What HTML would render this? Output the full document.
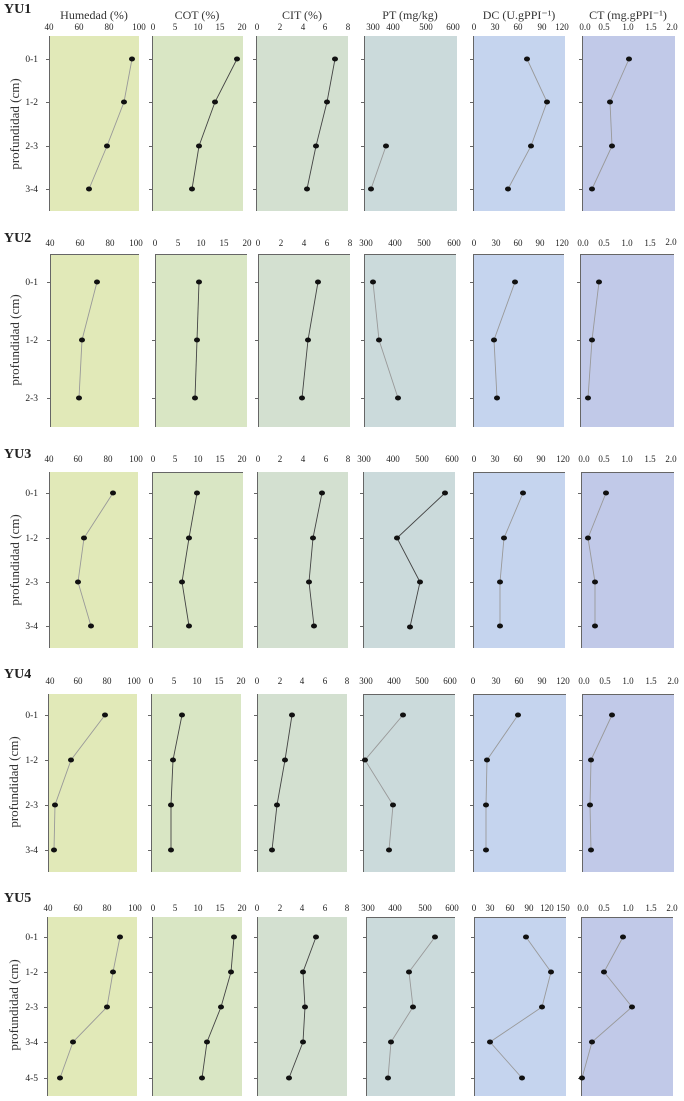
<!DOCTYPE html>
<html><head><meta charset="utf-8"><style>
body{margin:0;background:#fff}
svg{display:block;font-family:"Liberation Serif",serif}
.t{font-size:9px;fill:#222;text-anchor:middle}
.c{font-size:9.5px;fill:#222;text-anchor:end}
.h{font-size:12px;fill:#333;text-anchor:middle}
.yu{font-size:14px;font-weight:bold;fill:#222}
.yt{font-size:13px;fill:#333;text-anchor:middle}
.ax{stroke:#666;stroke-width:1;fill:none}
.l1{stroke:#999;stroke-width:0.9;fill:none}
.l2{stroke:#444;stroke-width:0.9;fill:none}
</style></head><body>
<svg width="684" height="1101" viewBox="0 0 684 1101">
<!-- ROW 1 -->
<text class="yu" x="4" y="13">YU1</text>
<text class="h" x="94" y="19">Humedad (%)</text>
<text class="h" x="197" y="19">COT (%)</text>
<text class="h" x="302" y="19">CIT (%)</text>
<text class="h" x="410" y="19">PT (mg/kg)</text>
<text class="h" x="519" y="19">DC (U.gPPI⁻¹)</text>
<text class="h" x="628" y="19">CT (mg.gPPI⁻¹)</text>
<rect x="49" y="36" width="90" height="175" fill="#e1e9b8"/>
<rect x="152" y="36" width="91" height="175" fill="#d9e6c4"/>
<rect x="256" y="36" width="92" height="175" fill="#d3e0d0"/>
<rect x="364" y="36" width="93" height="175" fill="#cbdadb"/>
<rect x="473" y="36" width="92" height="175" fill="#c5d4ee"/>
<rect x="582" y="36" width="93" height="175" fill="#c1c9e8"/>
<path class="ax" d="M49.5 36V211M152.5 36V211M256.5 36V211M364.5 36V211M473.5 36V211M582.5 36V211"/>
<path class="ax" d="M46 59.5h3M46 102.5h3M46 146.5h3M46 189.5h3M149 59.5h3M149 102.5h3M149 146.5h3M149 189.5h3M253 59.5h3M253 102.5h3M253 146.5h3M253 189.5h3M361 59.5h3M361 102.5h3M361 146.5h3M361 189.5h3M470 59.5h3M470 102.5h3M470 146.5h3M470 189.5h3M579 59.5h3M579 102.5h3M579 146.5h3M579 189.5h3"/>
<g class="t">
<text x="49" y="30">40</text><text x="79" y="30">60</text><text x="109" y="30">80</text><text x="139" y="30">100</text>
<text x="153" y="30">0</text><text x="175" y="30">5</text><text x="198" y="30">10</text><text x="220" y="30">15</text><text x="242" y="30">20</text>
<text x="257" y="30">0</text><text x="280" y="30">2</text><text x="303" y="30">4</text><text x="325" y="30">6</text><text x="348" y="30">8</text>
<text x="373" y="30">300</text><text x="393" y="30">400</text><text x="426" y="30">500</text><text x="453" y="30">600</text>
<text x="474" y="30">0</text><text x="495" y="30">30</text><text x="518" y="30">60</text><text x="542" y="30">90</text><text x="562" y="30">120</text>
<text x="585" y="30">0.0</text><text x="604" y="30">0.5</text><text x="628" y="30">1.0</text><text x="651" y="30">1.5</text><text x="672" y="30">2.0</text>
</g>
<g class="c"><text x="38" y="62">0-1</text><text x="38" y="105">1-2</text><text x="38" y="149">2-3</text><text x="38" y="192">3-4</text></g>
<text class="yt" transform="translate(19 124) rotate(-90)">profundidad (cm)</text>
<polyline class="l1" points="132,59 124,102 107,146 89,189"/>
<polyline class="l2" points="237,59 215,102 199,146 192,189"/>
<polyline class="l2" points="335,59 327,102 316,146 307,189"/>
<polyline class="l1" points="386,146 371,189"/>
<polyline class="l1" points="527,59 547,102 531,146 508,189"/>
<polyline class="l1" points="629,59 610,102 612,146 592,189"/>
<g fill="#111">
<ellipse cx="132" cy="59" rx="3" ry="2.5"/><ellipse cx="124" cy="102" rx="3" ry="2.5"/><ellipse cx="107" cy="146" rx="3" ry="2.5"/><ellipse cx="89" cy="189" rx="3" ry="2.5"/>
<ellipse cx="237" cy="59" rx="3" ry="2.5"/><ellipse cx="215" cy="102" rx="3" ry="2.5"/><ellipse cx="199" cy="146" rx="3" ry="2.5"/><ellipse cx="192" cy="189" rx="3" ry="2.5"/>
<ellipse cx="335" cy="59" rx="3" ry="2.5"/><ellipse cx="327" cy="102" rx="3" ry="2.5"/><ellipse cx="316" cy="146" rx="3" ry="2.5"/><ellipse cx="307" cy="189" rx="3" ry="2.5"/>
<ellipse cx="386" cy="146" rx="3" ry="2.5"/><ellipse cx="371" cy="189" rx="3" ry="2.5"/>
<ellipse cx="527" cy="59" rx="3" ry="2.5"/><ellipse cx="547" cy="102" rx="3" ry="2.5"/><ellipse cx="531" cy="146" rx="3" ry="2.5"/><ellipse cx="508" cy="189" rx="3" ry="2.5"/>
<ellipse cx="629" cy="59" rx="3" ry="2.5"/><ellipse cx="610" cy="102" rx="3" ry="2.5"/><ellipse cx="612" cy="146" rx="3" ry="2.5"/><ellipse cx="592" cy="189" rx="3" ry="2.5"/>
</g>

<!-- ROW 2 -->
<text class="yu" x="4" y="242">YU2</text>
<rect x="50" y="254" width="89" height="173" fill="#e1e9b8"/>
<rect x="155" y="254" width="92" height="173" fill="#d9e6c4"/>
<rect x="258" y="254" width="92" height="173" fill="#d3e0d0"/>
<rect x="364" y="254" width="92" height="173" fill="#cbdadb"/>
<rect x="473" y="254" width="91" height="173" fill="#c5d4ee"/>
<rect x="580" y="254" width="94" height="173" fill="#c1c9e8"/>
<path class="ax" d="M50.5 254V427M155.5 254V427M258.5 254V427M364.5 254V427M473.5 254V427M580.5 254V427M50 254.5H139M155 254.5H247M258 254.5H350M364 254.5H456M473 254.5H564M580 254.5H674"/>
<path class="ax" d="M47 282.5h3M47 340.5h3M47 398.5h3M152 282.5h3M152 340.5h3M152 398.5h3M255 282.5h3M255 340.5h3M255 398.5h3M361 282.5h3M361 340.5h3M361 398.5h3M470 282.5h3M470 340.5h3M470 398.5h3M577 282.5h3M577 340.5h3M577 398.5h3"/>
<g class="t">
<text x="50" y="246">40</text><text x="80" y="246">60</text><text x="110" y="246">80</text><text x="136" y="246">100</text>
<text x="155" y="246">0</text><text x="178" y="246">5</text><text x="201" y="246">10</text><text x="224" y="246">15</text><text x="247" y="246">20</text>
<text x="258" y="246">0</text><text x="281" y="246">2</text><text x="304" y="246">4</text><text x="327" y="246">6</text><text x="350" y="246">8</text>
<text x="366" y="246">300</text><text x="395" y="246">400</text><text x="424" y="246">500</text><text x="454" y="246">600</text>
<text x="474" y="246">0</text><text x="496" y="246">30</text><text x="518" y="246">60</text><text x="540" y="246">90</text><text x="562" y="246">120</text>
<text x="583" y="246">0.0</text><text x="604" y="246">0.5</text><text x="627" y="246">1.0</text><text x="650" y="246">1.5</text><text x="671" y="245">2.0</text>
</g>
<g class="c"><text x="38" y="285">0-1</text><text x="38" y="343">1-2</text><text x="38" y="401">2-3</text></g>
<text class="yt" transform="translate(19 340) rotate(-90)">profundidad (cm)</text>
<polyline class="l1" points="97,282 82,340 79,398"/>
<polyline class="l2" points="199,282 197,340 195,398"/>
<polyline class="l2" points="318,282 308,340 302,398"/>
<polyline class="l1" points="373,282 379,340 398,398"/>
<polyline class="l1" points="515,282 494,340 497,398"/>
<polyline class="l1" points="599,282 592,340 588,398"/>
<g fill="#111">
<ellipse cx="97" cy="282" rx="3" ry="2.5"/><ellipse cx="82" cy="340" rx="3" ry="2.5"/><ellipse cx="79" cy="398" rx="3" ry="2.5"/>
<ellipse cx="199" cy="282" rx="3" ry="2.5"/><ellipse cx="197" cy="340" rx="3" ry="2.5"/><ellipse cx="195" cy="398" rx="3" ry="2.5"/>
<ellipse cx="318" cy="282" rx="3" ry="2.5"/><ellipse cx="308" cy="340" rx="3" ry="2.5"/><ellipse cx="302" cy="398" rx="3" ry="2.5"/>
<ellipse cx="373" cy="282" rx="3" ry="2.5"/><ellipse cx="379" cy="340" rx="3" ry="2.5"/><ellipse cx="398" cy="398" rx="3" ry="2.5"/>
<ellipse cx="515" cy="282" rx="3" ry="2.5"/><ellipse cx="494" cy="340" rx="3" ry="2.5"/><ellipse cx="497" cy="398" rx="3" ry="2.5"/>
<ellipse cx="599" cy="282" rx="3" ry="2.5"/><ellipse cx="592" cy="340" rx="3" ry="2.5"/><ellipse cx="588" cy="398" rx="3" ry="2.5"/>
</g>

<!-- ROW 3 -->
<text class="yu" x="4" y="458">YU3</text>
<rect x="49" y="472" width="89" height="176" fill="#e1e9b8"/>
<rect x="152" y="472" width="91" height="176" fill="#d9e6c4"/>
<rect x="257" y="472" width="91" height="176" fill="#d3e0d0"/>
<rect x="363" y="472" width="92" height="176" fill="#cbdadb"/>
<rect x="473" y="472" width="92" height="176" fill="#c5d4ee"/>
<rect x="581" y="472" width="93" height="176" fill="#c1c9e8"/>
<path class="ax" d="M49.5 472V648M152.5 472V648M257.5 472V648M363.5 472V648M473.5 472V648M581.5 472V648M152 472.5H243M473 472.5H565M581 472.5H674"/>
<path class="ax" d="M46 493.5h3M46 538.5h3M46 582.5h3M46 626.5h3M149 493.5h3M149 538.5h3M149 582.5h3M149 626.5h3M254 493.5h3M254 538.5h3M254 582.5h3M254 626.5h3M360 493.5h3M360 538.5h3M360 582.5h3M360 626.5h3M470 493.5h3M470 538.5h3M470 582.5h3M470 626.5h3M578 493.5h3M578 538.5h3M578 582.5h3M578 626.5h3"/>
<g class="t">
<text x="49" y="462">40</text><text x="78" y="462">60</text><text x="108" y="462">80</text><text x="136" y="462">100</text>
<text x="153" y="462">0</text><text x="175" y="462">5</text><text x="198" y="462">10</text><text x="220" y="462">15</text><text x="242" y="462">20</text>
<text x="258" y="462">0</text><text x="280" y="462">2</text><text x="303" y="462">4</text><text x="326" y="462">6</text><text x="348" y="462">8</text>
<text x="364" y="462">300</text><text x="393" y="462">400</text><text x="422" y="462">500</text><text x="452" y="462">600</text>
<text x="474" y="462">0</text><text x="495" y="462">30</text><text x="518" y="462">60</text><text x="541" y="462">90</text><text x="563" y="462">120</text>
<text x="584" y="462">0.0</text><text x="604" y="462">0.5</text><text x="627" y="462">1.0</text><text x="650" y="462">1.5</text><text x="671" y="462">2.0</text>
</g>
<g class="c"><text x="38" y="496">0-1</text><text x="38" y="541">1-2</text><text x="38" y="585">2-3</text><text x="38" y="629">3-4</text></g>
<text class="yt" transform="translate(19 560) rotate(-90)">profundidad (cm)</text>
<polyline class="l1" points="113,493 84,538 78,582 91,626"/>
<polyline class="l2" points="197,493 189,538 182,582 189,626"/>
<polyline class="l2" points="322,493 313,538 309,582 314,626"/>
<polyline class="l2" points="445,493 397,538 420,582 410,627"/>
<polyline class="l1" points="523,493 504,538 500,582 500,626"/>
<polyline class="l1" points="606,493 588,538 595,582 595,626"/>
<g fill="#111">
<ellipse cx="113" cy="493" rx="3" ry="2.5"/><ellipse cx="84" cy="538" rx="3" ry="2.5"/><ellipse cx="78" cy="582" rx="3" ry="2.5"/><ellipse cx="91" cy="626" rx="3" ry="2.5"/>
<ellipse cx="197" cy="493" rx="3" ry="2.5"/><ellipse cx="189" cy="538" rx="3" ry="2.5"/><ellipse cx="182" cy="582" rx="3" ry="2.5"/><ellipse cx="189" cy="626" rx="3" ry="2.5"/>
<ellipse cx="322" cy="493" rx="3" ry="2.5"/><ellipse cx="313" cy="538" rx="3" ry="2.5"/><ellipse cx="309" cy="582" rx="3" ry="2.5"/><ellipse cx="314" cy="626" rx="3" ry="2.5"/>
<ellipse cx="445" cy="493" rx="3" ry="2.5"/><ellipse cx="397" cy="538" rx="3" ry="2.5"/><ellipse cx="420" cy="582" rx="3" ry="2.5"/><ellipse cx="410" cy="627" rx="3" ry="2.5"/>
<ellipse cx="523" cy="493" rx="3" ry="2.5"/><ellipse cx="504" cy="538" rx="3" ry="2.5"/><ellipse cx="500" cy="582" rx="3" ry="2.5"/><ellipse cx="500" cy="626" rx="3" ry="2.5"/>
<ellipse cx="606" cy="493" rx="3" ry="2.5"/><ellipse cx="588" cy="538" rx="3" ry="2.5"/><ellipse cx="595" cy="582" rx="3" ry="2.5"/><ellipse cx="595" cy="626" rx="3" ry="2.5"/>
</g>

<!-- ROW 4 -->
<text class="yu" x="4" y="678">YU4</text>
<rect x="48" y="694" width="89" height="178" fill="#e1e9b8"/>
<rect x="151" y="694" width="90" height="178" fill="#d9e6c4"/>
<rect x="257" y="694" width="90" height="178" fill="#d3e0d0"/>
<rect x="363" y="694" width="92" height="178" fill="#cbdadb"/>
<rect x="473" y="694" width="93" height="178" fill="#c5d4ee"/>
<rect x="582" y="694" width="92" height="178" fill="#c1c9e8"/>
<path class="ax" d="M48.5 694V872M151.5 694V872M257.5 694V872M363.5 694V872M473.5 694V872M582.5 694V872M363 694.5H455M473 694.5H566M582 694.5H674"/>
<path class="ax" d="M45 715.5h3M45 760.5h3M45 805.5h3M45 850.5h3M148 715.5h3M148 760.5h3M148 805.5h3M148 850.5h3M254 715.5h3M254 760.5h3M254 805.5h3M254 850.5h3M360 715.5h3M360 760.5h3M360 805.5h3M360 850.5h3M470 715.5h3M470 760.5h3M470 805.5h3M470 850.5h3M579 715.5h3M579 760.5h3M579 805.5h3M579 850.5h3"/>
<g class="t">
<text x="50" y="684">40</text><text x="78" y="684">60</text><text x="107" y="684">80</text><text x="134" y="684">100</text>
<text x="151" y="684">0</text><text x="174" y="684">5</text><text x="197" y="684">10</text><text x="219" y="684">15</text><text x="241" y="684">20</text>
<text x="257" y="684">0</text><text x="280" y="684">2</text><text x="302" y="684">4</text><text x="325" y="684">6</text><text x="347" y="684">8</text>
<text x="366" y="684">300</text><text x="394" y="684">400</text><text x="422" y="684">500</text><text x="450" y="684">600</text>
<text x="473" y="684">0</text><text x="496" y="684">30</text><text x="519" y="684">60</text><text x="542" y="684">90</text><text x="563" y="684">120</text>
<text x="584" y="684">0.0</text><text x="605" y="684">0.5</text><text x="628" y="684">1.0</text><text x="651" y="684">1.5</text><text x="673" y="684">2.0</text>
</g>
<g class="c"><text x="38" y="718">0-1</text><text x="38" y="763">1-2</text><text x="38" y="808">2-3</text><text x="38" y="853">3-4</text></g>
<text class="yt" transform="translate(18 782) rotate(-90)">profundidad (cm)</text>
<polyline class="l1" points="105,715 71,760 55,805 54,850"/>
<polyline class="l2" points="182,715 173,760 171,805 171,850"/>
<polyline class="l2" points="292,715 285,760 277,805 272,850"/>
<polyline class="l1" points="403,715 365,760 393,805 389,850"/>
<polyline class="l1" points="518,715 487,760 486,805 486,850"/>
<polyline class="l1" points="612,715 591,760 590,805 591,850"/>
<g fill="#111">
<ellipse cx="105" cy="715" rx="3" ry="2.5"/><ellipse cx="71" cy="760" rx="3" ry="2.5"/><ellipse cx="55" cy="805" rx="3" ry="2.5"/><ellipse cx="54" cy="850" rx="3" ry="2.5"/>
<ellipse cx="182" cy="715" rx="3" ry="2.5"/><ellipse cx="173" cy="760" rx="3" ry="2.5"/><ellipse cx="171" cy="805" rx="3" ry="2.5"/><ellipse cx="171" cy="850" rx="3" ry="2.5"/>
<ellipse cx="292" cy="715" rx="3" ry="2.5"/><ellipse cx="285" cy="760" rx="3" ry="2.5"/><ellipse cx="277" cy="805" rx="3" ry="2.5"/><ellipse cx="272" cy="850" rx="3" ry="2.5"/>
<ellipse cx="403" cy="715" rx="3" ry="2.5"/><ellipse cx="365" cy="760" rx="3" ry="2.5"/><ellipse cx="393" cy="805" rx="3" ry="2.5"/><ellipse cx="389" cy="850" rx="3" ry="2.5"/>
<ellipse cx="518" cy="715" rx="3" ry="2.5"/><ellipse cx="487" cy="760" rx="3" ry="2.5"/><ellipse cx="486" cy="805" rx="3" ry="2.5"/><ellipse cx="486" cy="850" rx="3" ry="2.5"/>
<ellipse cx="612" cy="715" rx="3" ry="2.5"/><ellipse cx="591" cy="760" rx="3" ry="2.5"/><ellipse cx="590" cy="805" rx="3" ry="2.5"/><ellipse cx="591" cy="850" rx="3" ry="2.5"/>
</g>

<!-- ROW 5 -->
<text class="yu" x="4" y="902">YU5</text>
<rect x="47" y="917" width="90" height="179" fill="#e1e9b8"/>
<rect x="152" y="917" width="90" height="179" fill="#d9e6c4"/>
<rect x="257" y="917" width="90" height="179" fill="#d3e0d0"/>
<rect x="366" y="917" width="89" height="179" fill="#cbdadb"/>
<rect x="474" y="917" width="92" height="179" fill="#c5d4ee"/>
<rect x="581" y="917" width="92" height="179" fill="#c1c9e8"/>
<path class="ax" d="M47.5 917V1096M152.5 917V1096M257.5 917V1096M366.5 917V1096M474.5 917V1096M581.5 917V1096M366 917.5H455M474 917.5H566M581 917.5H673"/>
<path class="ax" d="M44 937.5h3M44 972.5h3M44 1007.5h3M44 1042.5h3M44 1078.5h3M149 937.5h3M149 972.5h3M149 1007.5h3M149 1042.5h3M149 1078.5h3M254 937.5h3M254 972.5h3M254 1007.5h3M254 1042.5h3M254 1078.5h3M363 937.5h3M363 972.5h3M363 1007.5h3M363 1042.5h3M363 1078.5h3M471 937.5h3M471 972.5h3M471 1007.5h3M471 1042.5h3M471 1078.5h3M578 937.5h3M578 972.5h3M578 1007.5h3M578 1042.5h3M578 1078.5h3"/>
<g class="t">
<text x="48" y="911">40</text><text x="78" y="911">60</text><text x="107" y="911">80</text><text x="135" y="911">100</text>
<text x="153" y="911">0</text><text x="175" y="911">5</text><text x="198" y="911">10</text><text x="220" y="911">15</text><text x="242" y="911">20</text>
<text x="257" y="911">0</text><text x="280" y="911">2</text><text x="302" y="911">4</text><text x="325" y="911">6</text><text x="347" y="911">8</text>
<text x="368" y="911">300</text><text x="395" y="911">400</text><text x="425" y="911">500</text><text x="452" y="911">600</text>
<text x="474" y="911">0</text><text x="490" y="911">30</text><text x="510" y="911">60</text><text x="529" y="911">90</text><text x="547" y="911">120</text><text x="563" y="911">150</text>
<text x="583" y="911">0.0</text><text x="604" y="911">0.5</text><text x="628" y="911">1.0</text><text x="651" y="911">1.5</text><text x="672" y="911">2.0</text>
</g>
<g class="c"><text x="38" y="940">0-1</text><text x="38" y="975">1-2</text><text x="38" y="1010">2-3</text><text x="38" y="1045">3-4</text><text x="38" y="1081">4-5</text></g>
<text class="yt" transform="translate(18 1005) rotate(-90)">profundidad (cm)</text>
<polyline class="l1" points="120,937 113,972 107,1007 73,1042 60,1078"/>
<polyline class="l2" points="234,937 231,972 221,1007 207,1042 202,1078"/>
<polyline class="l2" points="316,937 303,972 305,1007 303,1042 289,1078"/>
<polyline class="l1" points="435,937 409,972 413,1007 391,1042 388,1078"/>
<polyline class="l1" points="526,937 551,972 542,1007 490,1042 522,1078"/>
<polyline class="l1" points="623,937 604,972 632,1007 592,1042 582,1078"/>
<g fill="#111">
<ellipse cx="120" cy="937" rx="3" ry="2.5"/><ellipse cx="113" cy="972" rx="3" ry="2.5"/><ellipse cx="107" cy="1007" rx="3" ry="2.5"/><ellipse cx="73" cy="1042" rx="3" ry="2.5"/><ellipse cx="60" cy="1078" rx="3" ry="2.5"/>
<ellipse cx="234" cy="937" rx="3" ry="2.5"/><ellipse cx="231" cy="972" rx="3" ry="2.5"/><ellipse cx="221" cy="1007" rx="3" ry="2.5"/><ellipse cx="207" cy="1042" rx="3" ry="2.5"/><ellipse cx="202" cy="1078" rx="3" ry="2.5"/>
<ellipse cx="316" cy="937" rx="3" ry="2.5"/><ellipse cx="303" cy="972" rx="3" ry="2.5"/><ellipse cx="305" cy="1007" rx="3" ry="2.5"/><ellipse cx="303" cy="1042" rx="3" ry="2.5"/><ellipse cx="289" cy="1078" rx="3" ry="2.5"/>
<ellipse cx="435" cy="937" rx="3" ry="2.5"/><ellipse cx="409" cy="972" rx="3" ry="2.5"/><ellipse cx="413" cy="1007" rx="3" ry="2.5"/><ellipse cx="391" cy="1042" rx="3" ry="2.5"/><ellipse cx="388" cy="1078" rx="3" ry="2.5"/>
<ellipse cx="526" cy="937" rx="3" ry="2.5"/><ellipse cx="551" cy="972" rx="3" ry="2.5"/><ellipse cx="542" cy="1007" rx="3" ry="2.5"/><ellipse cx="490" cy="1042" rx="3" ry="2.5"/><ellipse cx="522" cy="1078" rx="3" ry="2.5"/>
<ellipse cx="623" cy="937" rx="3" ry="2.5"/><ellipse cx="604" cy="972" rx="3" ry="2.5"/><ellipse cx="632" cy="1007" rx="3" ry="2.5"/><ellipse cx="592" cy="1042" rx="3" ry="2.5"/><ellipse cx="582" cy="1078" rx="3" ry="2.5"/>
</g>
</svg>
</body></html>
